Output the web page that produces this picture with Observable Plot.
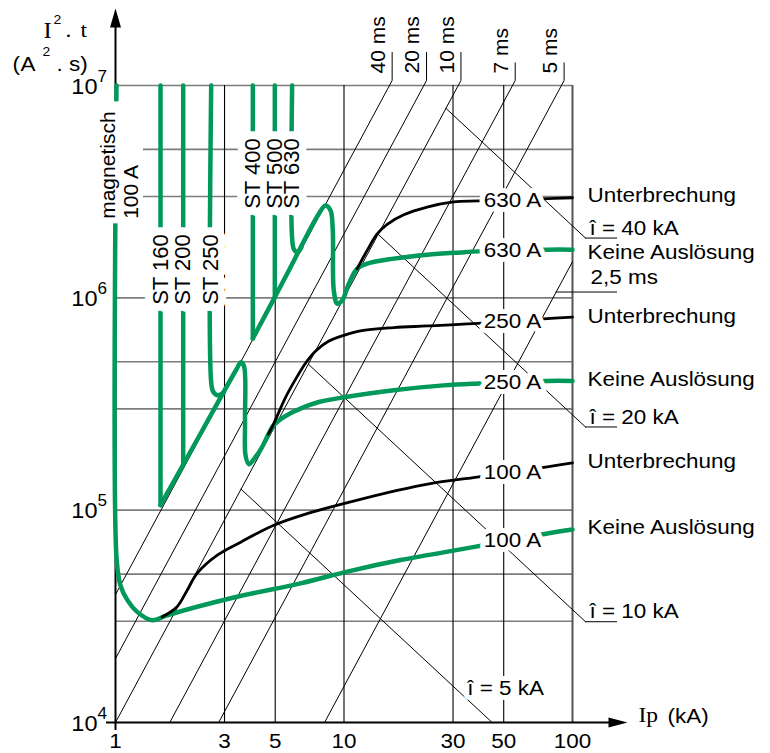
<!DOCTYPE html>
<html>
<head>
<meta charset="utf-8">
<script src="https://cdn.jsdelivr.net/npm/d3@7"></script>
<script src="https://cdn.jsdelivr.net/npm/@observablehq/plot@0.6"></script>
<style>
  body { margin: 0; background: #fff; }
  #chart { width: 770px; height: 753px; }
</style>
</head>
<body>
<div id="chart"></div>
<script>
// ---- Axes -------------------------------------------------------------
// Prospective current Ip (kA), let-through energy I²t (A²s)
const xTicks = [1, 3, 5, 10, 30, 50, 100];
const yMajor = [1e4, 1e5, 1e6, 1e7];
const yMinor = [3e4, 5e4, 3e5, 5e5, 3e6, 5e6];
const yExponents = ["4", "5", "6", "7"];

// ---- Constant-duration lines: I²t = k · Ip² ---------------------------
const durationLabels = ["40 ms", "20 ms", "10 ms", "7 ms", "5 ms", "2,5 ms"];
const durationK = [40000, 20000, 10000, 3350, 1250, 148];

// ---- Cut-off peak current lines: I²t = c / Ip --------------------------
const peakLabels = ["î = 5 kA", "î = 10 kA", "î = 20 kA", "î = 40 kA"];
const peakC = [4.45e5, 3.4e6, 2.81e7, 2.18e8];

// ---- Fuse curves, points [Ip (kA), I²t (A²s)] -------------------------
// 100 A: magnetic release joined to the no-trip curve
const keine100 = [[1.01, 1e7], [1.01, 6.0e4], [1.05, 4.44e4], [1.128, 3.77e4], [1.248, 3.31e4],
  [1.447, 3.03e4], [1.684, 3.2e4], [3.294, 3.88e4], [6.45, 4.52e4], [10.68, 5.18e4],
  [17.67, 5.82e4], [38.9, 6.77e4], [77.6, 7.77e4], [100, 8.11e4]];
const unter100 = [[1.6, 3.14e4], [1.86, 3.51e4], [2.06, 4.2e4], [2.28, 5.05e4], [2.79, 6.14e4],
  [3.53, 7.07e4], [4.93, 8.49e4], [6.9, 9.63e4], [10.68, 1.094e5], [17.1, 1.24e5],
  [23.9, 1.335e5], [38.9, 1.435e5], [77.6, 1.6e5], [100, 1.67e5]];

// 250 A group (selective thresholds ST 160 / 200 / 250)
const st160 = [[1.574, 1e7], [1.574, 1.056e5]];
const st200 = [[1.978, 1e7], [1.978, 1.64e5]];
const st250 = [[2.623, 1e7], [2.623, 4.0e5], [2.672, 3.63e5], [2.795, 3.48e5], [2.97, 3.58e5]];
const keine250 = [[1.574, 1.056e5], [2.355, 2.29e5], [3.385, 4.61e5], [3.54, 4.97e5], [3.651, 4.76e5],
  [3.688, 2.65e5], [3.707, 1.815e5], [3.832, 1.646e5], [4.1, 1.78e5], [4.4, 2.0e5],
  [4.67, 2.28e5], [4.915, 2.51e5], [5.275, 2.68e5], [5.83, 2.86e5], [6.45, 3.01e5],
  [7.76, 3.23e5], [10.15, 3.41e5], [16.5, 3.67e5], [27.3, 3.87e5], [38.9, 3.95e5],
  [77.5, 4.06e5], [100, 4.06e5]];
const unter250 = [[4.67, 2.28e5], [4.93, 2.56e5], [5.55, 3.4e5], [6.135, 4.13e5], [6.785, 4.92e5],
  [7.5, 5.6e5], [8.55, 6.24e5], [9.98, 6.66e5], [11.8, 6.99e5], [16.5, 7.24e5],
  [23.1, 7.37e5], [37.0, 7.56e5], [77.5, 7.98e5], [100, 8.12e5]];

// 630 A group (selective thresholds ST 400 / 500 / 630)
const st400 = [[3.99, 1e7], [3.99, 6.43e5]];
const st500 = [[4.98, 1e7], [4.98, 1.0e6]];
const st630 = [[5.93, 1e7], [5.93, 1.905e6], [6.04, 1.69e6], [6.26, 1.637e6], [6.52, 1.73e6]];
const keine630 = [[3.99, 6.43e5], [5.55, 1.256e6], [7.76, 2.49e6], [8.3, 2.72e6], [8.73, 2.58e6],
  [8.93, 2.08e6], [9.02, 1.085e6], [9.34, 9.39e5], [9.82, 9.72e5], [10.5, 1.166e6],
  [11.42, 1.372e6], [12.63, 1.449e6], [16.5, 1.53e6], [23.1, 1.597e6], [32.3, 1.637e6],
  [38.9, 1.655e6], [77.5, 1.686e6], [100, 1.686e6]];
const unter630 = [[11.42, 1.372e6], [12.63, 1.673e6], [13.97, 2.0e6], [15.45, 2.22e6],
  [18.27, 2.46e6], [23.1, 2.675e6], [30.2, 2.83e6], [38.9, 2.86e6], [77.5, 2.93e6], [100, 2.96e6]];

const stLowLabels = ["ST 160", "ST 200", "ST 250"];
const stHighLabels = ["ST 400", "ST 500", "ST 630"];
const magneticLabel = "magnetisch\n100 A";

// ---- Layout -------------------------------------------------------------
const W = 770, H = 753;
const M = {top: 85, right: 198, bottom: 31, left: 115};
const pxDecX = (W - M.left - M.right) / 2;   // pixels per decade of Ip
const pxDecY = (H - M.top - M.bottom) / 3;   // pixels per decade of I²t
const shiftX = (v, px) => v * 10 ** (px / pxDecX);   // move a value px to the right
const shiftY = (v, px) => v * 10 ** (px / pxDecY);   // move a value px upwards

const SANS = "'Liberation Sans', Arial, Helvetica, sans-serif";
const SERIF = "'Liberation Serif', 'Times New Roman', serif";
const GREEN = "#00995a";
const GRID = "#7c7c7c";

// A label on a white knock-out: all halos first, then all lettering on top
const haloText = (data, options, width) => [
  Plot.text(data, {...options, fill: "white", stroke: "white", strokeWidth: width, strokeLinejoin: "round"}),
  Plot.text(data, {...options, fill: "black"})
];

// log-log interpolation along a curve
function valueAt(series, x) {
  for (let i = 1; i < series.length; i++) {
    const [x0, y0] = series[i - 1], [x1, y1] = series[i];
    if (x0 !== x1 && x >= Math.min(x0, x1) && x <= Math.max(x0, x1)) {
      const t = Math.log(x / x0) / Math.log(x1 / x0);
      return Math.exp(Math.log(y0) + t * Math.log(y1 / y0));
    }
  }
  return series[series.length - 1][1];
}

// Duration lines: from where they enter the frame to just above its top edge,
// or to the right edge for the shortest one
const yTopLine = shiftY(1e7, 5);
const durationLines = [], durationTops = [];
durationK.forEach((k, i) => {
  const x0 = Math.max(1, Math.sqrt(1e4 / k));
  const xt = Math.sqrt(yTopLine / k);
  durationLines.push({id: i, x: x0, y: k * x0 * x0});
  if (xt <= 100) {
    durationLines.push({id: i, x: xt, y: yTopLine});
    const digits = durationLabels[i].split(" ")[0].length;
    durationTops.push({x: xt, yLeader: shiftY(yTopLine, 7 + digits * 10.5), label: durationLabels[i]});
  } else {
    durationLines.push({id: i, x: 100, y: k * 1e4});
  }
});

// Peak current lines start on the 10 ms line and run out to a leader on the right
const k10 = durationK[durationLabels.indexOf("10 ms")];
const leaderStartX = shiftX(100, 13), leaderEndX = shiftX(100, 45);
const peakLines = [], leaders = [], peakLeaderLabels = [];
peakC.forEach((c, i) => {
  const x0 = Math.cbrt(c / k10);
  const x1 = Math.min(leaderStartX, c / 1e4);
  peakLines.push({id: i, x: x0, y: c / x0}, {id: i, x: x1, y: c / x1});
  if (x1 === leaderStartX) {
    leaders.push({x1: leaderStartX, x2: leaderEndX, y: c / x1});
    peakLeaderLabels.push({x: leaderStartX, y: c / x1, label: peakLabels[i]});
  }
});
const groundPeak = peakC.map((c, i) => ({x: c / 1e4, y: 1e4, label: peakLabels[i]}))
  .filter(d => d.x < leaderStartX);

// 2,5 ms line: label on a leader at the right
const kShort = durationK[durationLabels.indexOf("2,5 ms")];
const shortLeaderY = 1.065e6;
leaders.push({x1: Math.sqrt(shortLeaderY / kShort), x2: leaderEndX, y: shortLeaderY});
const shortLabel = [{x: leaderStartX, y: shortLeaderY, label: "2,5 ms"}];

// Curve labels (offset: small vertical nudge of the right-hand caption, px)
const curves = [
  {data: unter630, rating: "630 A", kind: "Unterbrechung", offset: 2},
  {data: keine630, rating: "630 A", kind: "Keine Auslösung", offset: -3},
  {data: unter250, rating: "250 A", kind: "Unterbrechung", offset: 1},
  {data: keine250, rating: "250 A", kind: "Keine Auslösung", offset: 2},
  {data: unter100, rating: "100 A", kind: "Unterbrechung", offset: 2},
  {data: keine100, rating: "100 A", kind: "Keine Auslösung", offset: 2}
];
const ratingX = shiftX(100, -60);
const ratingMarks = curves.map(c => ({x: ratingX, y: valueAt(c.data, ratingX), text: c.rating}));
const kindMarks = curves.map(c => ({x: 100, y: shiftY(c.data[c.data.length - 1][1], c.offset), text: c.kind}));

const stLow = [st160, st200, st250].map((s, i) => ({x: s[0][0], label: stLowLabels[i]}));
const stHigh = [st400, st500, st630].map((s, i) => ({x: s[0][0], label: stHighLabels[i]}));

// White panel behind the magnetic release caption
const magneticPanel = [{x1: shiftX(1, -18), x2: shiftX(1, 28), y1: shiftY(1e6, 74), y2: shiftY(1e6, 196)}];

// Arrow heads for the axes, tip at the anchor point
const arrowUp = {draw(ctx) { ctx.moveTo(0, 0); ctx.lineTo(-5.5, 19); ctx.lineTo(5.5, 19); ctx.closePath(); }};
const arrowRight = {draw(ctx) { ctx.moveTo(0, 0); ctx.lineTo(-19, -5); ctx.lineTo(-19, 5); ctx.closePath(); }};

const pt = d => d[0], pv = d => d[1];
const greenLine = (data, curve = "catmull-rom") => Plot.line(data, {x: pt, y: pv, stroke: GREEN, strokeWidth: 4.5, curve, strokeLinejoin: "round"});
const blackLine = data => Plot.line(data, {x: pt, y: pv, stroke: "black", strokeWidth: 2.8, curve: "catmull-rom", strokeLinecap: "round"});
const title = (s, o) => Plot.text([s], {text: d => d, textAnchor: "start", ...o});

const chart = Plot.plot({
  width: W, height: H,
  marginTop: M.top, marginRight: M.right, marginBottom: M.bottom, marginLeft: M.left,
  x: {type: "log", domain: [1, 100], axis: null},
  y: {type: "log", domain: [1e4, 1e7], axis: null},
  style: {fontFamily: SANS, fontSize: "21px", background: "white", color: "black"},
  marks: [
    // grid
    Plot.ruleY(yMinor.concat(yMajor.slice(1)), {x1: 1, x2: 100, stroke: GRID, strokeWidth: 1.6}),
    Plot.ruleX(xTicks.slice(1, -1), {y1: 1e4, y2: 1e7, stroke: "black", strokeWidth: 1.1}),
    Plot.ruleX([100], {y1: 1e4, y2: 1e7, stroke: "#555", strokeWidth: 2}),

    // duration and peak current lines with their leaders
    Plot.line(durationLines, {x: "x", y: "y", z: "id", stroke: "black", strokeWidth: 1}),
    Plot.ruleX(durationTops, {x: "x", y1: yTopLine, y2: "yLeader", stroke: "black", strokeWidth: 1}),
    Plot.line(peakLines, {x: "x", y: "y", z: "id", stroke: "black", strokeWidth: 1}),
    Plot.ruleY(leaders, {y: "y", x1: "x1", x2: "x2", stroke: "black", strokeWidth: 1}),

    // axes
    Plot.ruleY([1e4], {x1: shiftX(1, -9), x2: shiftX(100, 40), stroke: "black", strokeWidth: 2}),
    Plot.ruleX([1], {y1: shiftY(1e4, -8), y2: shiftY(1e7, 62), stroke: "black", strokeWidth: 2}),
    Plot.dot([{x: 1, y: shiftY(1e7, 77)}], {x: "x", y: "y", symbol: arrowUp, fill: "black", stroke: "none"}),
    Plot.dot([{x: shiftX(100, 55), y: 1e4}], {x: "x", y: "y", symbol: arrowRight, fill: "black", stroke: "none"}),

    // selective thresholds and no-trip curves
    greenLine(st160, "linear"), greenLine(st200, "linear"), greenLine(st250),
    greenLine(st400, "linear"), greenLine(st500, "linear"), greenLine(st630),
    greenLine(keine100), greenLine(keine250), greenLine(keine630),

    // interruption curves
    blackLine(unter100), blackLine(unter250), blackLine(unter630),

    // labels sitting on the drawing
    haloText(ratingMarks, {x: "x", y: "y", text: "text", textAnchor: "middle"}, 10),
    haloText(stLow, {x: "x", y: 1e6, text: "label", rotate: -90, textAnchor: "start", dy: 7, fontSize: 22}, 16),
    haloText(stHigh, {x: "x", y: 1e6, text: "label", rotate: -90, textAnchor: "start", dy: -89, fontSize: 22}, 16),
    Plot.rect(magneticPanel, {x1: "x1", x2: "x2", y1: "y1", y2: "y2", fill: "white"}),
    Plot.text([magneticLabel], {x: 1, y: 1e6, text: d => d, rotate: -90, textAnchor: "start", lineHeight: 1.08, dx: 4, dy: -79, fill: "black"}),
    haloText(groundPeak, {x: "x", y: "y", text: "label", textAnchor: "start", dx: -25, dy: -34}, 10),

    // labels around the frame
    Plot.text(kindMarks, {x: "x", y: "y", text: "text", textAnchor: "start", dx: 15}),
    Plot.text(peakLeaderLabels, {x: "x", y: "y", text: "label", textAnchor: "start", dx: 4, dy: -10}),
    Plot.text(shortLabel, {x: "x", y: "y", text: "label", textAnchor: "start", dx: 5, dy: -15}),
    Plot.text(durationTops, {x: "x", y: yTopLine, text: "label", rotate: -90, textAnchor: "start", dx: -14, dy: -7}),

    // tick labels
    Plot.text(xTicks, {x: d => d, y: 1e4, text: d => String(d), textAnchor: "middle", dy: 19}),
    Plot.text(yMajor, {x: 1, y: d => d, text: () => "10", textAnchor: "end", dx: -18, dy: 1, fontSize: 22}),
    Plot.text(yMajor, {x: 1, y: d => d, text: (d, i) => yExponents[i], textAnchor: "start", dx: -18, dy: -9, fontSize: 16}),

    // axis titles
    title("I", {frameAnchor: "top-left", dx: -72, dy: -64, fontFamily: SERIF, fontSize: 23}),
    title("2", {frameAnchor: "top-left", dx: -62, dy: -71, fontSize: 13}),
    title(".", {frameAnchor: "top-left", dx: -50, dy: -64, fontFamily: SERIF, fontSize: 22}),
    title("t", {frameAnchor: "top-left", dx: -35, dy: -64, fontFamily: SERIF, fontSize: 22}),
    title("(", {frameAnchor: "top-left", dx: -103, dy: -29, fontSize: 21}),
    title("A", {frameAnchor: "top-left", dx: -95, dy: -29, fontSize: 21}),
    title("2", {frameAnchor: "top-left", dx: -73, dy: -39, fontSize: 13}),
    title(". s)", {frameAnchor: "top-left", dx: -59, dy: -29, fontSize: 21}),
    title("Ip", {frameAnchor: "bottom-right", dx: 66, dy: -1, fontFamily: SERIF, fontSize: 22}),
    title("(kA)", {frameAnchor: "bottom-right", dx: 95, dy: 0, fontSize: 21})
  ]
});

// Widen horizontal lettering slightly, as in the printed original
chart.querySelectorAll("text").forEach(t => {
  const tr = t.getAttribute("transform");
  if (tr && !tr.includes("rotate")) t.setAttribute("transform", tr + " scale(1.07,1)");
});

document.getElementById("chart").appendChild(chart);
</script>
</body>
</html>
